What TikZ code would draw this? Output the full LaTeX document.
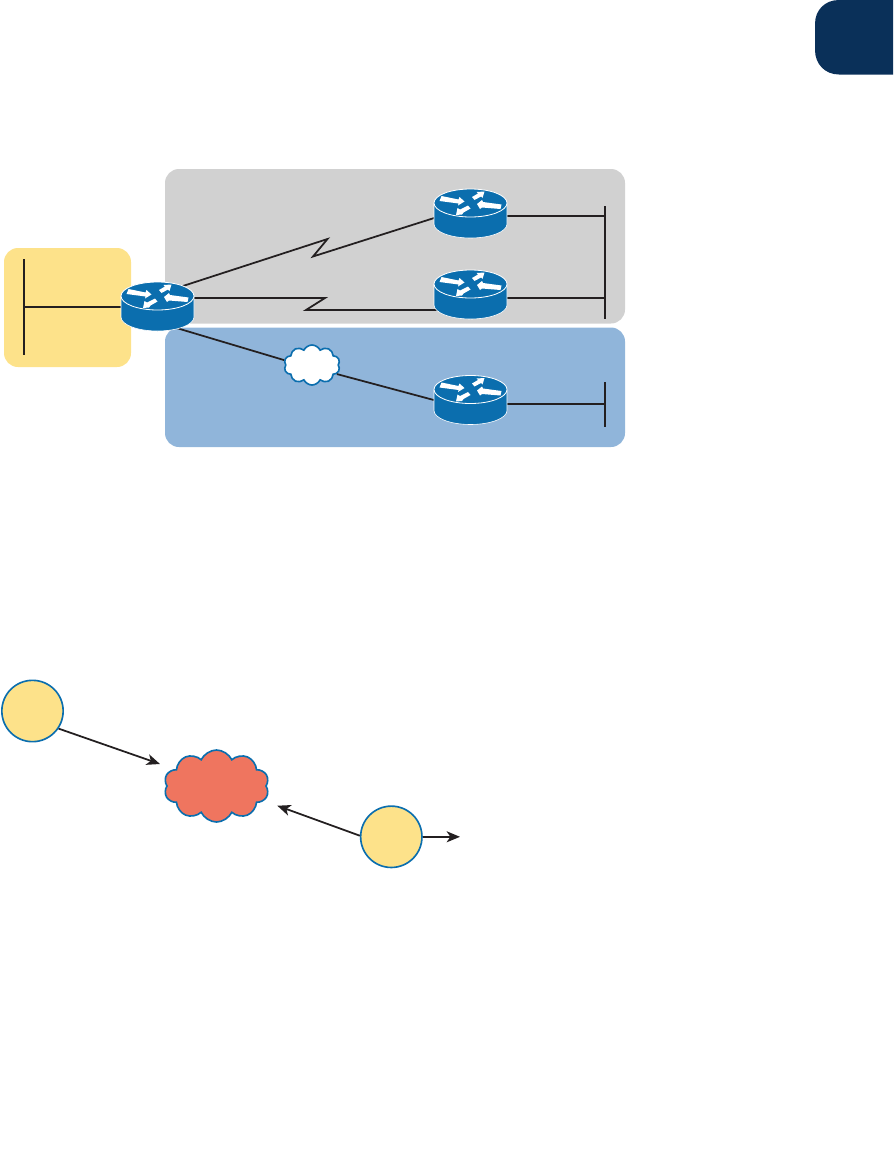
\documentclass[tikz,border=0pt]{standalone}
\usepackage{xcolor}
\usetikzlibrary{arrows.meta,calc,shapes.geometric,shapes.symbols}
\definecolor{navytab}{HTML}{0A3059}
\definecolor{panelgray}{HTML}{D1D1D1}
\definecolor{panelblue}{HTML}{90B5DA}
\definecolor{paleyellow}{HTML}{FDE28A}
\definecolor{ciscoblue}{HTML}{0B6EAE}
\definecolor{salmon}{HTML}{EF755F}
\definecolor{wireblack}{HTML}{231F20}
\tikzset{
  panel/.style={rounded corners=0.42cm},
  wire/.style={draw=wireblack,line width=1.5pt},
  flow/.style={wire,-{Stealth[length=4mm,width=3.3mm,inset=1.1mm]}},
  routernode/.style={ellipse,inner sep=0pt,minimum width=2.19cm,minimum height=1.47cm},
  sitenode/.style={circle,draw=ciscoblue,fill=paleyellow,line width=1.4pt,inner sep=0pt,minimum size=1.84cm},
  cloudnode/.style={cloud,cloud puffs=10,cloud puff arc=130,draw=ciscoblue,line width=1.4pt,inner sep=0pt},
  routerbody/.pic={
    \fill[ciscoblue] (-36.5,-10.5) -- (-36.5,10.5) arc (180:0:36.5 and 14) -- (36.5,-10.5) arc (0:180:36.5 and 14) -- cycle;
    \draw[white,line width=0.5pt] (-36.5,-10.5) -- (-36.5,10.5) arc (180:0:36.5 and 14) -- (36.5,-10.5);
    \draw[white,line width=0.7pt,fill=ciscoblue] (0,-10.5) circle (36.5 and 14);
    \begin{scope}[yshift=0.315cm,white]
    \fill (-29,-7) -- (-12,-3.5) -- (-11,-6) -- (-6,-1.5) -- (-12.5,2.5) -- (-12,0.5) -- (-31,-2) -- cycle;
    \fill (6.5,1) -- (11.5,-3) -- (12.5,-1) -- (31,1.5) -- (30,6) -- (11.5,4.5) -- (9.5,6) -- cycle;
    \fill (1.5,-6) -- (7.5,-9.5) -- (6,-11) -- (14,-11.5) -- (12,-5) -- (10.5,-6.5) -- (4,-3) -- cycle;
    \fill (-14.5,12) -- (-13,5) -- (-10.5,6.5) -- (-2.5,2.5) -- (0,5.5) -- (-7,9.5) -- (-8.5,11.5) -- cycle;
    \end{scope}
  }
}
\begin{document}
\begin{tikzpicture}[x=0.03cm,y=-0.03cm]
\useasboundingbox (0,0) rectangle (894,1173);
\fill[navytab] (893,0) -- (839,0) .. controls (825,0) and (815,10) .. (815,24) -- (815,50) .. controls (815,64) and (825,74.5) .. (839,74.5) -- (893,74.5) -- cycle;
\fill[panel,panelgray] (165,169) rectangle (625,323.5);
\fill[panel,panelblue] (165,327.5) rectangle (625,447);
\fill[panel,paleyellow] (4,248) rectangle (131,367);
\node[routernode] (rMain) at (157.5,306.5) {};
\node[routernode] (rTop) at (470.5,213.5) {};
\node[routernode] (rMid) at (470.5,294.5) {};
\node[routernode] (rLow) at (470.5,400) {};
\node[cloudnode,fill=white,minimum width=1.68cm,minimum height=1.2cm] (wanCloud) at (312,365) {};
\coordinate (lanLeftTop) at (24,259);
\coordinate (lanLeftBot) at (24,355);
\coordinate (lanRightTop) at (605,206);
\coordinate (lanRightBot) at (605,319);
\coordinate (lanLowTop) at (605,382);
\coordinate (lanLowBot) at (605,427);
\coordinate (tapLeft) at (24,306.7);
\coordinate (tapTop) at (605,215.7);
\coordinate (tapMid) at (605,298);
\coordinate (tapLow) at (605,403.7);
\coordinate (kinkA) at (327.5,239);
\coordinate (kinkB) at (313,256.5);
\coordinate (kinkC) at (325,298);
\coordinate (kinkD) at (306,310);
\draw[wire] (lanLeftTop) -- (lanLeftBot);
\draw[wire] (lanRightTop) -- (lanRightBot);
\draw[wire] (lanLowTop) -- (lanLowBot);
\draw[wire] (tapLeft) -- (tapLeft -| rMain);
\draw[wire] (tapTop -| rTop) -- (tapTop);
\draw[wire] (tapMid -| rMid) -- (tapMid);
\draw[wire] (tapLow -| rLow) -- (tapLow);
\draw[wire] (rMain.41) -- (kinkA) -- (kinkB) -- (rTop.187);
\draw[wire] (kinkC -| rMain) -- (kinkC) -- (kinkD) -- (kinkD -| rMid);
\draw[wire] (rMain.-49) -- (wanCloud.170);
\draw[wire] (wanCloud.-20) -- (rLow.west);
\pic at (rMain) {routerbody};
\pic at (rTop) {routerbody};
\pic at (rMid) {routerbody};
\pic at (rLow) {routerbody};
\node[sitenode] (siteA) at (32.5,711) {};
\node[sitenode] (siteB) at (391.3,836.8) {};
\node[cloudnode,fill=salmon,minimum width=3.15cm,minimum height=2.16cm] (inetCloud) at (216.5,786) {};
\coordinate (tipA) at (160,764);
\coordinate (tipB) at (277.3,805.7);
\coordinate (tipC) at (460,836.8);
\draw[flow] (siteA.-34) -- (tipA);
\draw[flow] (siteB.178) -- (tipB);
\draw[flow] (siteB.east) -- (tipC);
\end{tikzpicture}
\end{document}
